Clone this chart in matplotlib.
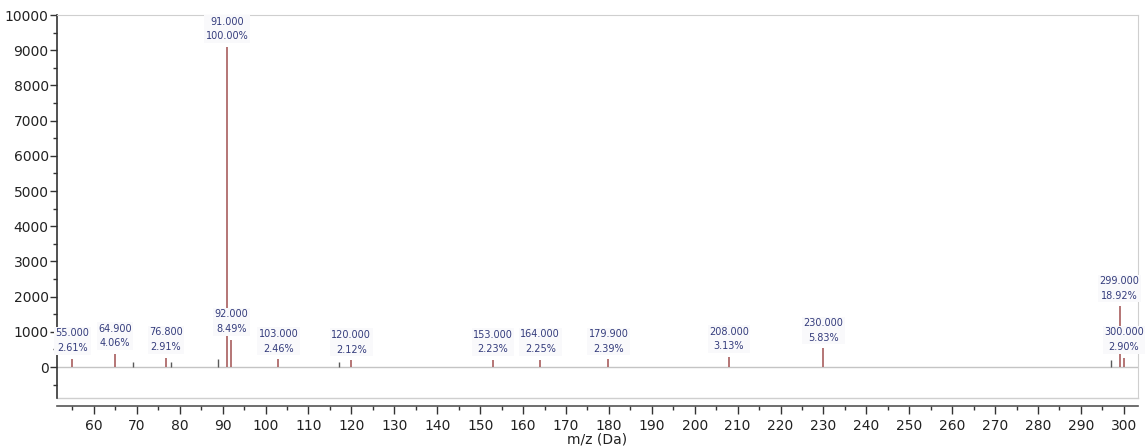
import matplotlib
matplotlib.use("Agg")
import matplotlib.pyplot as plt
from matplotlib.ticker import MultipleLocator

# Labelled fragment ions: m/z and relative abundance (% of base peak)
label_mz = [55.0, 64.9, 76.8, 91.0, 92.0, 103.0, 120.0, 153.0, 164.0,
            179.9, 208.0, 230.0, 299.0, 300.0]
label_pct = [2.61, 4.06, 2.91, 100.00, 8.49, 2.46, 2.12, 2.23, 2.25,
             2.39, 3.13, 5.83, 18.92, 2.90]

# Minor unlabelled ions
minor_mz = [69.0, 78.0, 89.0, 117.0, 297.0]
minor_pct = [1.55, 1.55, 2.55, 1.6, 2.2]

base_intensity = 9090  # absolute intensity of the base peak (m/z 91)

peak_color = "#a85e5e"
minor_color = "#5a5a5a"
text_color = "#343c7c"
frame_color = "#cfcfcf"
axis_color = "#333333"

fig = plt.figure(figsize=(11.45, 4.48), dpi=100)
ax = fig.add_axes([57 / 1145, 1 - 398 / 448, (1138 - 57) / 1145, (398 - 15) / 448])

# Baseline
ax.axhline(0, color="#c4c4c4", lw=1.0, zorder=1)

label_int = [p / 100 * base_intensity for p in label_pct]
minor_int = [p / 100 * base_intensity for p in minor_pct]

ax.vlines(minor_mz, 0, minor_int, color=minor_color, lw=1.0, zorder=2)
ax.vlines(label_mz, 0, label_int, color=peak_color, lw=1.2, zorder=3)

for mz, pct, inten in zip(label_mz, label_pct, label_int):
    ax.annotate(f"{mz:.3f}\n{pct:.2f}%", xy=(mz, inten), xytext=(0, 4),
                textcoords="offset points", ha="center", va="bottom",
                fontsize=7, color=text_color, linespacing=1.6,
                bbox=dict(boxstyle="square,pad=0.15", fc="#f9f9fb", ec="none"),
                zorder=4)

ax.set_xlim(51.4, 303.3)
ax.set_ylim(-880, 10000)

# Light frame with a dark left axis
for side in ("top", "right"):
    ax.spines[side].set_color(frame_color)
ax.spines["left"].set_color(axis_color)
ax.spines["left"].set_linewidth(1.2)
ax.spines["bottom"].set_position(("outward", 6))
ax.spines["bottom"].set_color("#555555")
ax.spines["bottom"].set_linewidth(1.2)
# bottom edge of the plotting frame
ax.plot([0, 1], [0, 0], transform=ax.transAxes, color=frame_color, lw=1.0,
        clip_on=False, zorder=1)

ax.yaxis.set_major_locator(MultipleLocator(1000))
ax.yaxis.set_minor_locator(MultipleLocator(500))
ax.xaxis.set_major_locator(MultipleLocator(10))
ax.xaxis.set_minor_locator(MultipleLocator(5))
ax.set_yticks(range(0, 10001, 1000))

ax.tick_params(axis="y", which="major", direction="out", length=5, width=1,
               color=axis_color, labelsize=10, labelcolor="#222222", pad=1)
ax.tick_params(axis="y", which="minor", direction="out", length=3, width=1,
               color=axis_color)
ax.tick_params(axis="x", which="major", direction="out", length=6, width=1,
               color=axis_color, labelsize=10, labelcolor="#222222", pad=3)
ax.tick_params(axis="x", which="minor", direction="out", length=3, width=1,
               color=axis_color)

ax.set_xlabel("m/z (Da)", fontsize=10, color="#222222", labelpad=0)

fig.savefig("out.png", dpi=100)
